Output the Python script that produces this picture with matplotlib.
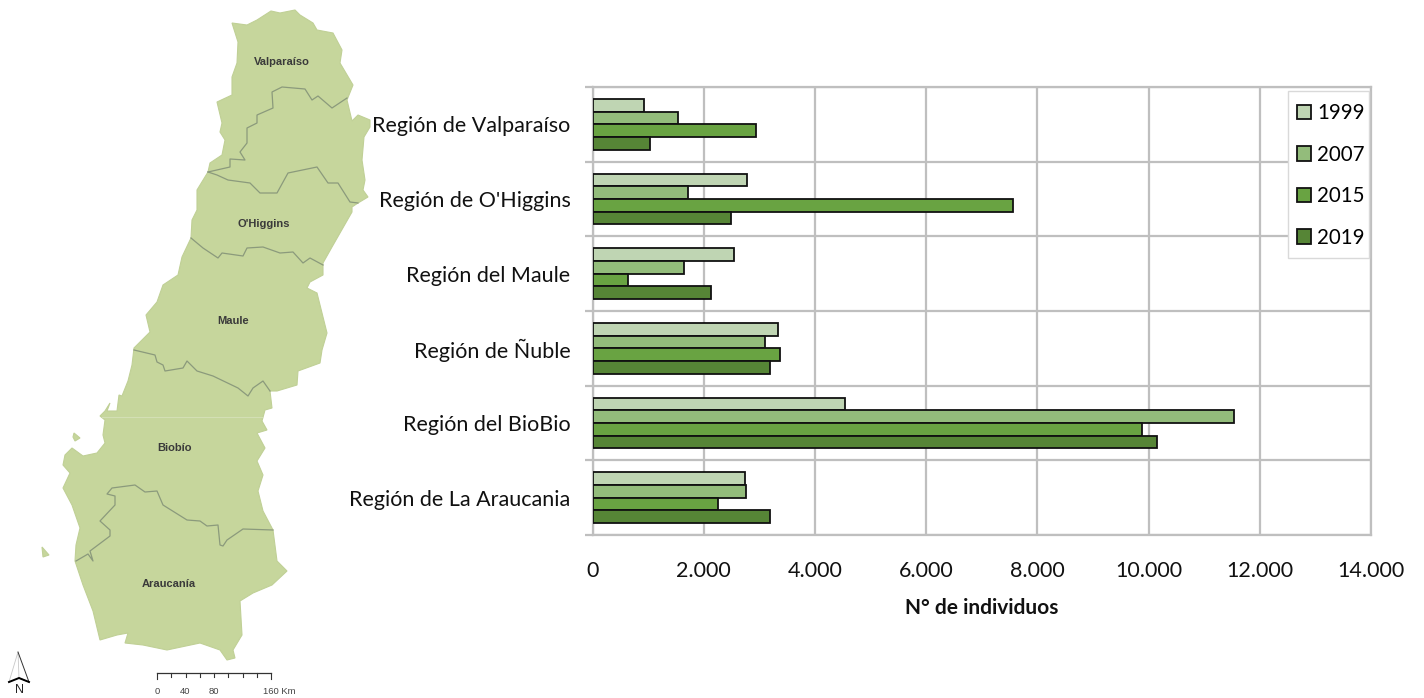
import numpy as np
import matplotlib
matplotlib.use('Agg')
import matplotlib.pyplot as plt
from matplotlib.patches import Rectangle

regions = ['Región de Valparaíso', "Región de O'Higgins", 'Región del Maule',
           'Región de Ñuble', 'Región del BioBio', 'Región de La Araucania']
v1999 = [920, 2780, 2540, 3335, 4540, 2740]
v2007 = [1530, 1717, 1650, 3100, 11530, 2760]
v2015 = [2945, 7570, 640, 3370, 9880, 2260]
v2019 = [1034, 2490, 2140, 3190, 10150, 3200]
years = ['1999', '2007', '2015', '2019']
x_ticks = [0, 2000, 4000, 6000, 8000, 10000, 12000, 14000]
x_labels = ['0', '2.000', '4.000', '6.000', '8.000', '10.000', '12.000', '14.000']

# mapa, en pixeles de la imagen
outline = [(232, 23), (247, 25), (257, 20), (271, 11), (280, 13), (295, 10), (300, 15), (313, 23),
           (317, 30), (333, 33), (342, 50), (340, 63), (353, 85), (347, 100), (352, 121), (358, 115),
           (370, 120), (370, 127), (364, 137), (362, 160), (365, 180), (363, 190), (368, 197),
           (358, 203), (352, 207), (352, 212), (332, 247), (323, 263), (323, 275), (310, 282),
           (307, 288), (317, 293), (322, 313), (327, 333), (322, 350), (320, 363), (298, 371),
           (297, 385), (277, 391), (270, 391), (272, 408), (265, 410), (262, 421), (267, 430),
           (257, 433), (265, 448), (257, 461), (263, 475), (258, 491), (263, 511), (273, 530),
           (277, 561), (287, 571), (272, 585), (253, 593), (240, 601), (242, 635), (233, 650),
           (235, 658), (227, 660), (220, 650), (200, 643), (167, 650), (143, 645), (125, 643),
           (128, 633), (117, 635), (100, 640), (93, 611), (83, 585), (75, 561), (76, 545),
           (80, 528), (72, 505), (63, 488), (70, 473), (63, 465), (65, 455), (72, 448), (83, 456),
           (97, 453), (105, 443), (103, 435), (105, 420), (100, 416), (105, 411), (110, 403),
           (107, 411), (117, 411), (119, 395), (122, 396), (128, 381), (132, 365), (134, 348),
           (150, 332), (146, 315), (157, 302), (163, 285), (178, 275), (182, 257), (191, 238),
           (192, 220), (197, 210), (197, 190), (208, 172), (210, 163), (222, 155), (225, 140),
           (220, 132), (222, 123), (217, 102), (232, 95), (232, 77), (237, 63), (238, 42)]
island1 = [(74, 433), (80, 438), (75, 441), (73, 437)]
island2 = [(42, 547), (49, 555), (43, 557)]
borders = [
    [(208, 172), (230, 167), (230, 159), (245, 160), (240, 152), (247, 143), (247, 128), (257, 123),
     (257, 115), (273, 108), (272, 92), (282, 87), (305, 89), (312, 100), (318, 96), (332, 108), (347, 98)],
    [(208, 172), (217, 175), (228, 180), (250, 183), (260, 193), (277, 193), (288, 173), (317, 167),
     (328, 183), (338, 183), (350, 202), (358, 203)],
    [(191, 238), (203, 248), (218, 258), (222, 253), (243, 256), (247, 248), (263, 247), (280, 253),
     (293, 252), (303, 263), (310, 258), (323, 265)],
    [(134, 350), (155, 355), (157, 362), (163, 365), (165, 371), (183, 368), (187, 361), (197, 371),
     (213, 376), (238, 388), (248, 396), (253, 388), (263, 381), (270, 391)],
    [(76, 561), (88, 554), (93, 561), (90, 551), (110, 536), (110, 530), (100, 521), (115, 505),
     (115, 496), (107, 494), (112, 488), (135, 485), (145, 492), (157, 491), (163, 505), (187, 520),
     (200, 521), (207, 526), (218, 525), (220, 545), (223, 546), (227, 540), (243, 529), (273, 530)],
]
map_names = ['Valparaíso', "O'Higgins", 'Maule', 'Biobío', 'Araucanía']
map_pos = [(282, 62), (264, 224), (233, 321), (175, 448), (169, 584)]
scale_labels = ['0', '40', '80', '160 Km']
scale_pos = [157, 185.5, 214, 279.5]

W, H = 1424, 698
fig = plt.figure(figsize=(W / 100, H / 100), dpi=100)

# capa del mapa
bg = fig.add_axes([0, 0, 1, 1])
bg.set_xlim(0, W)
bg.set_ylim(H, 0)
bg.axis('off')
for poly in [outline, island1, island2]:
    bg.fill(*zip(*poly), facecolor='#c6d69c', edgecolor='#c0d096', lw=0.8)
for b in borders:
    bg.plot(*zip(*b), color='#8b9a7c', lw=0.9)
bg.plot([102, 262], [417, 417], color='#d3dfb4', lw=0.8)
for name, (px, py) in zip(map_names, map_pos):
    bg.text(px, py, name, family='Liberation Sans', weight='bold', size=8, color='#3a3a3a',
            ha='center', va='center')

# flecha norte
bg.fill([18, 9, 19], [652, 682, 678], facecolor='white', edgecolor='#c8c8c8', lw=0.6)
bg.plot([18, 29, 19], [652, 682, 678], color='#333333', lw=0.7)
bg.plot([9, 19, 29], [682, 678, 682], color='black', lw=1.4)
bg.text(19, 690, 'N', family='Liberation Sans', size=9, color='#222222', ha='center', va='center')

# escala
bg.plot([157, 271], [673, 673], color='#333333', lw=0.9)
for i in range(9):
    sx = 157 + i * 14.25
    bg.plot([sx, sx], [673, 679 if i in (0, 8) else 677], color='#333333', lw=0.8)
for lab, sx in zip(scale_labels, scale_pos):
    bg.text(sx, 691, lab, family='Liberation Sans', size=6.8, color='#444444', ha='center', va='center')

# grafico de barras
ax = fig.add_axes([592.5 / W, 1 - 535 / H, (1371 - 592.5) / W, (535 - 87) / H])
ax.patch.set_alpha(0)
colors = ['#bfd5b3', '#93bc7b', '#69a342', '#568536']
h = 0.17
y = np.arange(len(regions))
for i, vals in enumerate([v1999, v2007, v2015, v2019]):
    ax.barh(y + (i - 1.5) * h, vals, height=h, color=colors[i], edgecolor='#111111', lw=1.3,
            label=years[i], zorder=3)

ax.set_xlim(0, 14000)
ax.set_ylim(5.5, -0.5)
ax.set_xticks(x_ticks)
ax.set_xticklabels(x_labels, family='Lato', size=15.5, color='#111111')
ax.set_yticks(y)
ax.set_yticklabels(regions, family='Lato', size=15.5, color='#111111')
ax.set_yticks(np.arange(-0.5, 6), minor=True)
ax.tick_params(axis='y', which='major', length=0, pad=15.8)
ax.tick_params(axis='y', which='minor', length=6, width=1.6, color='#bfbfbf')
ax.tick_params(axis='x', length=0, pad=19)
ax.grid(axis='x', color='#bfbfbf', lw=1.6, zorder=1)
ax.grid(axis='y', which='minor', color='#bfbfbf', lw=1.6, zorder=1)
ax.set_axisbelow(True)
for s in ax.spines.values():
    s.set_color('#bfbfbf')
    s.set_linewidth(1.6)

ax.set_xlabel('N° de individuos', family='Lato', weight='bold', size=15, color='#111111', labelpad=12)

# marco de la leyenda aparte, para que quede del ancho del original
frame = Rectangle((1288 / W, 1 - 258 / H), 81 / W, 167 / H, transform=fig.transFigure,
                  facecolor='white', edgecolor='#d9d9d9', lw=1, zorder=4, clip_on=False)
ax.add_patch(frame)
leg = ax.legend(loc='upper left', bbox_to_anchor=(1297 / W, 1 - 103 / H), bbox_transform=fig.transFigure,
                prop={'family': 'Lato', 'size': 14.8}, frameon=False,
                borderaxespad=0, borderpad=0, handlelength=0.68, handleheight=0.7, handletextpad=0.3,
                labelspacing=1.05)
leg.set_zorder(5)

fig.savefig('out.png', dpi=100)
